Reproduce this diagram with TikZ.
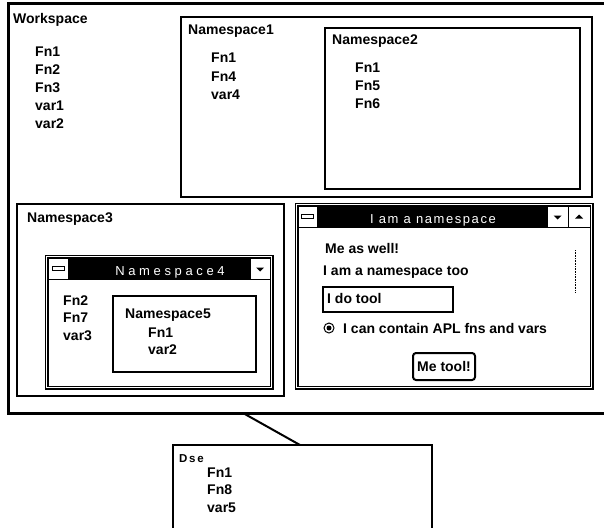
\documentclass[tikz,border=0pt]{standalone}
\usepackage{fontspec}
\setmainfont{Liberation Sans}
\usepackage{tikz}
\usetikzlibrary{positioning,calc}

\begin{document}
\begin{tikzpicture}[x=1pt, y=-1pt,
    nsBox/.style={rectangle, draw=black, line width=2pt, anchor=north west, inner sep=0pt, outer sep=0pt},
    winFrame/.style={rectangle, draw=black, line width=1.1pt, double=white, double distance=1.8pt, anchor=north west, inner sep=0pt, outer sep=0pt},
    nsLabel/.style={anchor=base west, inner sep=0pt, font=\fontsize{14}{18}\selectfont\bfseries},
    itemList/.style={anchor=base west, inner sep=0pt, align=left, font=\fontsize{14}{18}\selectfont\bfseries},
    titleBar/.style={rectangle, fill=black, anchor=north west, inner sep=0pt, outer sep=0pt, minimum height=21pt},
    titleText/.style={text=white, inner sep=0pt, anchor=base, font=\fontsize{13}{15}\selectfont},
    ctlBox/.style={rectangle, draw=black, fill=white, line width=0.8pt, anchor=north west, inner sep=0pt, outer sep=0pt, minimum width=20pt, minimum height=21pt},
    barMark/.style={rectangle, draw=black, fill=white, line width=0.8pt, inner sep=0pt, minimum width=12pt, minimum height=3.5pt}
]
    \useasboundingbox (0,0) rectangle (604,527);

    % workspace (item lists sit on the baseline of their last line)
    \node[nsBox, line width=3pt, minimum width=610, minimum height=409] (ws) at (8,4) {};
    \node[nsLabel] (wsName) at (13,24) {Workspace};
    \node[itemList] (wsItems) at (35,128) {Fn1\\Fn2\\Fn3\\var1\\var2};

    \node[nsBox, minimum width=411, minimum height=180] (ns1) at (181,17) {};
    \node[nsLabel] (ns1Name) at (188,35) {Namespace1};
    \node[itemList] (ns1Items) at (211,99) {Fn1\\Fn4\\var4};

    \node[nsBox, minimum width=255, minimum height=161] (ns2) at (325,28) {};
    \node[nsLabel] (ns2Name) at (332,45) {Namespace2};
    \node[itemList] (ns2Items) at (355,108) {Fn1\\Fn5\\Fn6};

    \node[nsBox, line width=1.5pt, minimum width=267, minimum height=192] (ns3) at (17,204) {};
    \node[nsLabel] (ns3Name) at (27,222) {Namespace3};

    % namespace4 window
    \node[winFrame, minimum width=225, minimum height=131] (ns4) at (46.5,256.5) {};
    \node[titleBar, minimum width=222] (ns4Bar) at (48,258) {};
    \draw[line width=0.8pt] (ns4Bar.south west) -- (ns4Bar.south east);
    \node[ctlBox] (ns4Min) at (48,258) {};
    \node[barMark] at (ns4Min.center) {};
    \node[ctlBox] (ns4Drop) at (250,258) {};
    \fill ($(ns4Drop.center)+(-4,-1)$) -- ++(8,0) -- ++(-4,4) -- cycle;
    \node[titleText, font=\fontsize{13}{15}\selectfont\addfontfeature{LetterSpace=28}] (ns4Title) at (170,275) {Namespace4};
    \node[itemList, font=\fontsize{14}{17.5}\selectfont\bfseries] (ns4Items) at (63,340) {Fn2\\Fn7\\var3};

    \node[nsBox, line width=1.5pt, minimum width=143, minimum height=76] (ns5) at (113,296) {};
    \node[nsLabel] (ns5Name) at (125,318) {Namespace5};
    \node[itemList, font=\fontsize{14}{17}\selectfont\bfseries] (ns5Items) at (148,354) {Fn1\\var2};

    % form window
    \node[winFrame, minimum width=295, minimum height=183] (frm) at (296.5,204.5) {};
    \node[titleBar, minimum width=292] (frmBar) at (298,206) {};
    \draw[line width=0.8pt] (frmBar.south west) -- (frmBar.south east);
    \node[ctlBox, minimum width=19pt] (frmMin) at (298,206) {};
    \node[barMark] at (frmMin.center) {};
    \node[ctlBox, minimum width=21pt] (frmDrop) at (547,206) {};
    \fill ($(frmDrop.center)+(-4,-1)$) -- ++(8,0) -- ++(-4,4) -- cycle;
    \node[ctlBox, minimum width=22pt] (frmUp) at (568,206) {};
    \fill ($(frmUp.center)+(-4,2)$) -- ++(8,0) -- ++(-4,-4) -- cycle;
    \node[titleText, font=\fontsize{13}{15}\selectfont\addfontfeature{LetterSpace=12}] (frmTitle) at (433,223) {I am a namespace};
    \draw[densely dotted, line width=0.6pt] (575,250) -- (575,292);

    \node[nsLabel] (frmLbl1) at (325,253) {Me as well!};
    \node[nsLabel] (frmLbl2) at (323,275) {I am a namespace too};
    \node[nsBox, line width=1.2pt, minimum width=130, minimum height=25] (frmEdit) at (323,287) {};
    \node[nsLabel] (frmEditTxt) at (327,303) {I do tool};
    \node[circle, draw=black, line width=1pt, minimum size=10pt, inner sep=0pt] (frmRadio) at (329,328) {};
    \fill (frmRadio.center) circle (2.5);
    \node[nsLabel] (frmRadioTxt) at (343,333) {I can contain APL fns and vars};
    \node[rectangle, draw=black, line width=2pt, rounded corners=3pt, minimum width=62pt, minimum height=27pt, inner sep=0pt, font=\fontsize{14}{18}\selectfont\bfseries] (frmBtn) at (444,366.5) {Me tool!};

    % dse
    \node[nsBox, line width=1.5pt, minimum width=259, minimum height=100] (dse) at (173,445) {};
    \node[nsLabel, font=\fontsize{11.5}{13}\selectfont\bfseries\addfontfeature{LetterSpace=15}] (dseName) at (179,462) {Dse};
    \node[itemList, font=\fontsize{14}{17.5}\selectfont\bfseries] (dseItems) at (207,512) {Fn1\\Fn8\\var5};

    \coordinate (wsFoot) at (243,413);
    \coordinate (dseTop) at (300,445);
    \draw[line width=2pt] (wsFoot) -- (dseTop);
\end{tikzpicture}
\end{document}
